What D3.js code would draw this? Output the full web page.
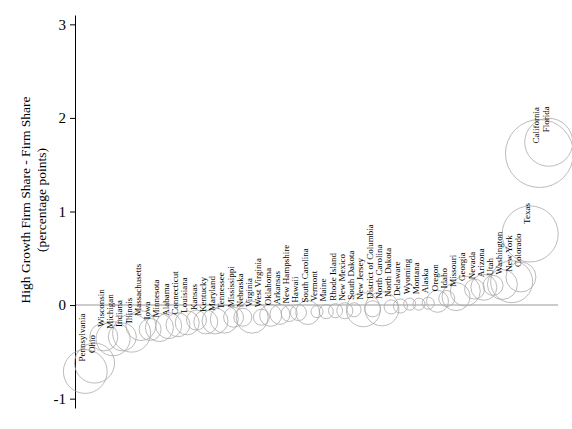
<!DOCTYPE html>
<html>
<head>
<meta charset="utf-8">
<script src="https://cdn.jsdelivr.net/npm/d3@7"></script>
<style>
  body { margin: 0; background: #fff; }
  text { font-family: "Liberation Serif", "Times New Roman", serif; fill: #000; }
</style>
</head>
<body>
<div id="chart-area"></div>
<script>
// states, sorted by the gap between high growth firm share and firm share
var states = ["Pennsylvania", "Ohio", "Wisconsin", "Michigan", "Indiana", "Illinois",
  "Massachusetts", "Iowa", "Minnesota", "Alabama", "Connecticut", "Louisiana", "Kansas",
  "Kentucky", "Maryland", "Tennessee", "Mississippi", "Nebraska", "Virginia", "West Virginia",
  "Oklahoma", "Arkansas", "New Hampshire", "Hawaii", "South Carolina", "Vermont", "Maine",
  "Rhode Island", "New Mexico", "South Dakota", "New Jersey", "District of Columbia",
  "North Carolina", "North Dakota", "Delaware", "Wyoming", "Montana", "Alaska", "Oregon",
  "Idaho", "Missouri", "Georgia", "Nevada", "Arizona", "Utah", "Washington", "New York",
  "Colorado", "Texas", "California", "Florida"]

// percentage points
var shareGap = [-0.71, -0.62, -0.34, -0.36, -0.34, -0.30,
  -0.22, -0.26, -0.24, -0.22, -0.21, -0.19, -0.16,
  -0.18, -0.17, -0.15, -0.13, -0.13, -0.13, -0.13,
  -0.11, -0.10, -0.09, -0.08, -0.08, -0.07, -0.07,
  -0.06, -0.06, -0.05, -0.05, -0.04,
  -0.04, -0.02, -0.01, 0.01, 0.01, 0.02, 0.04,
  0.07, 0.09, 0.15, 0.17, 0.19, 0.21, 0.22, 0.25,
  0.30, 0.76, 1.62, 1.74]

// number of firms (thousands), sets bubble area
var firms = [290, 242, 119, 175, 119, 218,
  136, 73, 119, 102, 87, 87, 60,
  87, 102, 119, 60, 49, 155, 39,
  73, 60, 39, 39, 87, 22, 30,
  30, 39, 30, 175, 39,
  175, 30, 30, 22, 22, 22, 73,
  39, 119, 136, 60, 102, 60, 136, 267,
  136, 475, 700, 349]

var yTicks = [-1, 0, 1, 2, 3]

var data = states.map(function(s, i){
  return {state: s, gap: shareGap[i], firms: firms[i]}
})

var svgWidth = 572
var svgHeight = 429
var plotLeft = 75, plotRight = 558, plotTop = 15, plotBottom = 408

var svg = d3.select("#chart-area")
  .append("svg")
  .attr("width", svgWidth)
  .attr("height", svgHeight)

var x = d3.scalePoint()
  .domain(states)
  .range([plotLeft + 1, plotRight])
  .padding(1)

var y = d3.scaleLinear()
  .domain([-1.1, 3.1])
  .range([plotBottom, plotTop])

var r = d3.scaleSqrt()
  .domain([0, d3.max(firms)])
  .range([0, 34])

// zero line
svg.append("line")
  .attr("x1", plotLeft)
  .attr("x2", plotRight)
  .attr("y1", y(0))
  .attr("y2", y(0))
  .attr("stroke", "#bbb")
  .attr("stroke-width", 1.5)

var yAxis = svg.append("g")
  .attr("transform", "translate(" + plotLeft + ",0)")
  .call(d3.axisLeft(y)
    .tickValues(yTicks)
    .tickFormat(function(d){ return String(d) })
    .tickSize(5)
    .tickSizeOuter(0)
    .tickPadding(4))

yAxis.selectAll("text")
  .style("font-family", "'Liberation Serif', serif")
  .style("font-size", "15px")
yAxis.select(".domain").attr("stroke", "#000")

svg.append("text")
  .attr("transform", "translate(30,200) rotate(-90)")
  .attr("text-anchor", "middle")
  .style("font-size", "13.5px")
  .text("High Growth Firm Share - Firm Share")

svg.append("text")
  .attr("transform", "translate(46,200) rotate(-90)")
  .attr("text-anchor", "middle")
  .style("font-size", "13.5px")
  .text("(percentage points)")

svg.selectAll("circle.bubble").data(data)
  .enter()
  .append("circle")
  .attr("class", "bubble")
  .attr("cx", function(d){ return x(d.state) })
  .attr("cy", function(d){ return y(d.gap) })
  .attr("r", function(d){ return r(d.firms) })
  .attr("fill", "none")
  .attr("stroke", "#aaa")
  .attr("stroke-width", 0.8)

svg.selectAll("text.state").data(data)
  .enter()
  .append("text")
  .attr("class", "state")
  .attr("transform", function(d){
    return "translate(" + x(d.state) + "," + (y(d.gap) - 10) + ") rotate(-90)"
  })
  .style("font-size", "9px")
  .text(function(d){ return d.state })
</script>
</body>
</html>
